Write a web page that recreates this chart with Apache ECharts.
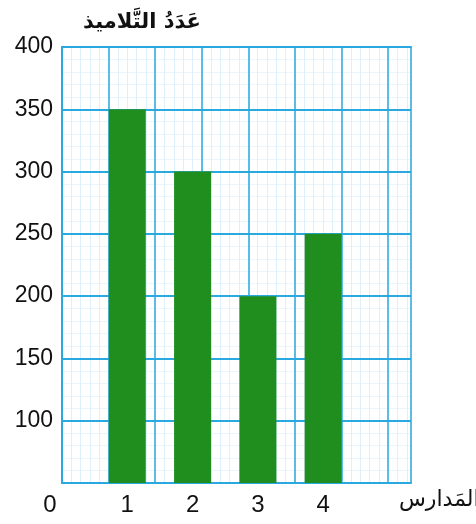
<!DOCTYPE html>
<html>
<head>
<meta charset="utf-8">
<script src="https://cdn.jsdelivr.net/npm/echarts@6/dist/echarts.min.js"></script>
<style>html,body{margin:0;padding:0;background:#fff}#c{width:476px;height:524px}</style>
</head>
<body>
<div id="c"></div>
<script>
var schools = [1, 2, 3, 4];
var students = [350, 300, 200, 250];
var yTicks = [100, 150, 200, 250, 300, 350, 400];
var yName = 'عَدَدُ التَّلاميذ';
var xName = 'المَدارس';

var blue = '#2aa9e0';
var minor = '#def1fa';
var chart = echarts.init(document.getElementById('c'));
chart.setOption({
  animation: false,
  grid: { left: 62, right: 65, top: 47, bottom: 41, containLabel: false, outerBoundsMode: 'none' },
  xAxis: [{
    type: 'value', min: 0, max: 5.345, interval: 1, z: 3,
    axisLine: { show: true, lineStyle: { color: blue, width: 2 } },
    axisTick: { show: false },
    splitLine: { show: false },
    axisLabel: {
      margin: 10, fontFamily: 'Liberation Sans', fontSize: 24, color: '#111',
      formatter: function (v) {
        if (v === 0) return '{z|0}';
        return schools.indexOf(v) >= 0 ? String(v) : '';
      },
      rich: { z: { fontFamily: 'Liberation Sans', fontSize: 24, color: '#111', padding: [0, 24, 0, 0] } },
      showMaxLabel: false
    },
    name: xName, nameLocation: 'end', nameGap: -12,
    nameTextStyle: { fontFamily: 'DejaVu Sans', fontSize: 22, color: '#111', verticalAlign: 'top', padding: [6, 0, 0, 0] }
  }, {
    type: 'value', min: 0, max: 7.49, interval: 1, position: 'top', z: 2,
    axisLine: { show: true, lineStyle: { color: blue, width: 2 } },
    axisTick: { show: false }, axisLabel: { show: false },
    splitLine: { show: true, lineStyle: { color: blue, width: 1.5, type: 'solid' } }
  }, {
    type: 'value', min: 0, max: 7.49, interval: 0.2, position: 'top', z: 0,
    axisLine: { show: false }, axisTick: { show: false }, axisLabel: { show: false },
    splitLine: { show: true, lineStyle: { color: minor, width: 1, type: 'solid' } }
  }],
  yAxis: [{
    type: 'value', min: 50, max: 400, interval: 50, z: 2,
    axisLine: { show: true, lineStyle: { color: blue, width: 2 } },
    axisTick: { show: false },
    splitLine: { show: true, lineStyle: { color: blue, width: 2, type: 'solid' } },
    axisLabel: {
      margin: 9, fontFamily: 'Liberation Sans', fontSize: 23, color: '#111',
      formatter: function (v) { return yTicks.indexOf(v) >= 0 ? String(v) : ''; }
    },
    name: yName, nameLocation: 'end', nameGap: 14,
    nameTextStyle: { fontFamily: 'DejaVu Sans', fontSize: 21, fontWeight: 'bold', color: '#111', padding: [0, 0, 0, 160] }
  }, {
    type: 'value', min: 50, max: 400, interval: 10, position: 'right', z: 0,
    axisLine: { show: false }, axisTick: { show: false }, axisLabel: { show: false },
    splitLine: { show: true, lineStyle: { color: '#eaf6fc', width: 1, type: 'solid' } }
  }],
  series: [{
    type: 'bar', xAxisIndex: 0, yAxisIndex: 0, clip: true, z: 4,
    barWidth: 37,
    itemStyle: { color: '#1f8e1f' },
    data: schools.map(function (s, i) { return [s, students[i]]; })
  }]
});
</script>
</body>
</html>
